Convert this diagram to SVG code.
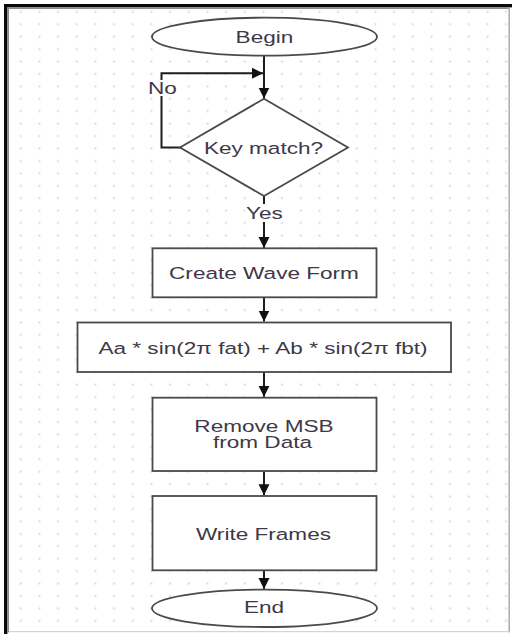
<svg xmlns="http://www.w3.org/2000/svg" width="512" height="637" viewBox="0 0 512 637">
<style>
  .shape { fill: #ffffff; stroke: #4a4a4a; stroke-width: 1.8; }
  .conn { fill: none; stroke: #1e1e1e; stroke-width: 2; }
  .lbl { font-family: "Liberation Sans", Arial, sans-serif; font-size: 16.5px; fill: #3e3848; text-anchor: middle; }
  .lblbg { fill: #ffffff; }
</style>
<defs>
  <pattern id="dots" patternUnits="userSpaceOnUse" x="11.33" y="5.5" width="18.67" height="12.43">
    <rect x="8.4" y="5.3" width="1.9" height="1.9" fill="#d6d6d6"/>
  </pattern>
  <marker id="arrow" markerUnits="userSpaceOnUse" markerWidth="12" markerHeight="12" viewBox="0 0 12 12" refX="11" refY="6" orient="auto">
    <path d="M0,0.5 L11,6 L0,11.5 z" fill="#111111"/>
  </marker>
</defs>

<!-- background and frame -->
<rect x="0" y="0" width="512" height="637" fill="#ffffff"/>
<rect x="9" y="9" width="499.5" height="622.5" fill="url(#dots)"/>
<rect x="4" y="4" width="508" height="3.4" fill="#0a0a0a"/>
<rect x="4" y="4" width="3.4" height="630" fill="#0a0a0a"/>
<rect x="7.4" y="7.4" width="502.6" height="1.6" fill="#8a8a8a"/>
<rect x="7.4" y="7.4" width="1.6" height="625" fill="#8a8a8a"/>
<rect x="508.4" y="7.4" width="1.6" height="625" fill="#b0b0b0"/>
<rect x="9" y="631" width="500" height="1.2" fill="#d4d4d4"/>

<g id="connectors">
  <line class="conn" x1="264" y1="56" x2="264" y2="98.5" marker-end="url(#arrow)"/>
  <polyline class="conn" points="181,147.5 161.5,147.5 161.5,73.3 263,73.3" marker-end="url(#arrow)"/>
  <line class="conn" x1="264" y1="196" x2="264" y2="248" marker-end="url(#arrow)"/>
  <line class="conn" x1="264" y1="298" x2="264" y2="321.5" marker-end="url(#arrow)"/>
  <line class="conn" x1="264" y1="372" x2="264" y2="396.8" marker-end="url(#arrow)"/>
  <line class="conn" x1="264" y1="471.5" x2="264" y2="495.2" marker-end="url(#arrow)"/>
  <line class="conn" x1="264" y1="571" x2="264" y2="589" marker-end="url(#arrow)"/>
  <g id="label-no">
    <rect class="lblbg" x="148" y="80" width="29" height="16"/>
    <text class="lbl" transform="translate(162.5 94) scale(1.37 1)">No</text>
  </g>
  <g id="label-yes">
    <rect class="lblbg" x="245" y="204" width="39" height="18"/>
    <text class="lbl" transform="translate(264.5 219.3) scale(1.37 1)">Yes</text>
  </g>
</g>

<g id="begin">
  <ellipse class="shape" cx="264.5" cy="36.7" rx="112.5" ry="19"/>
  <text class="lbl" transform="translate(264.5 42.7) scale(1.37 1)">Begin</text>
</g>

<g id="key-match">
  <polygon class="shape" points="264,98.7 348,147.5 264,196 180,147.5"/>
  <text class="lbl" transform="translate(263.5 153.8) scale(1.37 1)">Key match?</text>
</g>

<g id="create-wave-form">
  <rect class="shape" x="152.5" y="248.3" width="224" height="49"/>
  <text class="lbl" transform="translate(264 279.2) scale(1.37 1)">Create Wave Form</text>
</g>

<g id="formula">
  <rect class="shape" x="77.5" y="322.5" width="373.5" height="49.5"/>
  <text class="lbl" transform="translate(263 353.5) scale(1.37 1)">Aa * sin(2π fat) + Ab * sin(2π fbt)</text>
</g>

<g id="remove-msb">
  <rect class="shape" x="152.5" y="397.7" width="224" height="73.3"/>
  <text class="lbl" transform="translate(264 431.6) scale(1.37 1)">Remove MSB</text>
  <text class="lbl" transform="translate(262.5 448.3) scale(1.37 1)">from Data</text>
</g>

<g id="write-frames">
  <rect class="shape" x="152.5" y="496" width="224" height="74.3"/>
  <text class="lbl" transform="translate(263.5 540) scale(1.37 1)">Write Frames</text>
</g>

<g id="end">
  <ellipse class="shape" cx="264.5" cy="608.3" rx="112.5" ry="18.7"/>
  <text class="lbl" transform="translate(264 613.3) scale(1.37 1)">End</text>
</g>
</svg>
